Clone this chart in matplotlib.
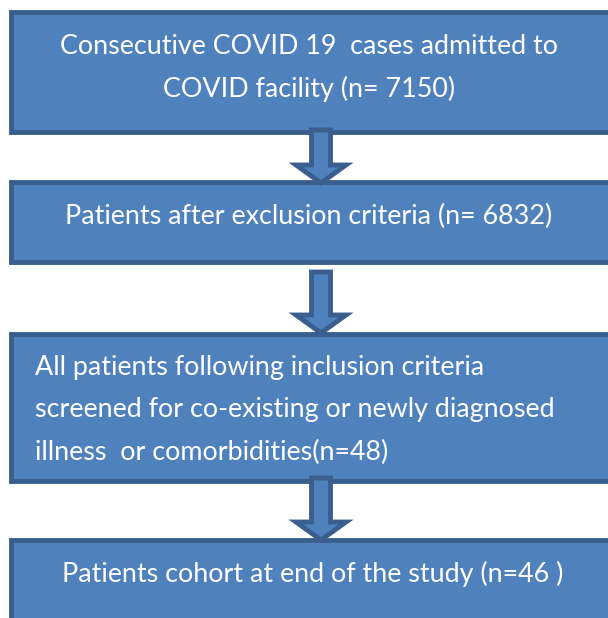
import matplotlib.pyplot as plt
from matplotlib.patches import Rectangle, Polygon

# flowchart content
steps = [
    ["Consecutive COVID 19  cases admitted to", "COVID facility (n= 7150)"],
    ["Patients after exclusion criteria (n= 6832)"],
    ["All patients following inclusion criteria",
     "screened for co-existing or newly diagnosed",
     "illness  or comorbidities(n=48)"],
    ["Patients cohort at end of the study (n=46 )"],
]
align = ["center", "center", "left", "center"]

# layout in pixels (y grows downwards)
box_top = [12, 182, 334, 540]
box_bot = [132, 262, 481, 640]
text_y0 = [47, 216, 368, 574]
line_gap = 42
box_left, box_right = 11, 640
text_cx = [309, 309, 35, 313]

fill = "#4F81BD"
edge = "#3A5F8E"


def block_arrow(ax, cx, top, tip, shaft_w=19, head_w=50, head_len=18):
    neck = tip - head_len
    pts = [
        (cx - shaft_w / 2, top), (cx + shaft_w / 2, top),
        (cx + shaft_w / 2, neck), (cx + head_w / 2, neck),
        (cx, tip), (cx - head_w / 2, neck),
        (cx - shaft_w / 2, neck),
    ]
    ax.add_patch(Polygon(pts, closed=True, facecolor=fill, edgecolor=edge,
                         linewidth=3.5, joinstyle="miter", zorder=3))


fig = plt.figure(figsize=(6.08, 6.18), dpi=100)
ax = fig.add_axes([0, 0, 1, 1])
ax.set_xlim(0, 608)
ax.set_ylim(618, 0)
ax.axis("off")

for i, lines in enumerate(steps):
    ax.add_patch(Rectangle((box_left, box_top[i]), box_right - box_left,
                           box_bot[i] - box_top[i], facecolor=fill,
                           edgecolor=edge, linewidth=3.5, zorder=2))
    for j, line in enumerate(lines):
        ax.text(text_cx[i], text_y0[i] + j * line_gap, line, color="white",
                fontsize=19.4, family="Lato", ha=align[i], va="center",
                zorder=5)

arrows = [(130, 183), (272, 333), (478, 540)]
for top, tip in arrows:
    block_arrow(ax, 321, top, tip)

fig.savefig("out.png", dpi=100)
